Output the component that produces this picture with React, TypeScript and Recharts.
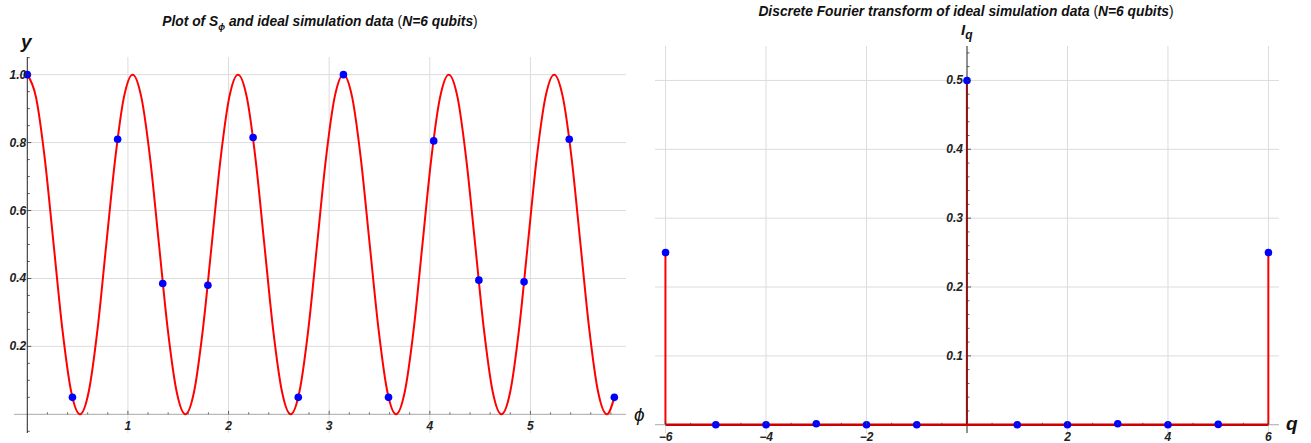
import React from 'react';
import {
  ComposedChart,
  Line,
  Scatter,
  Bar,
  XAxis,
  YAxis,
  CartesianGrid,
  ReferenceLine,
} from 'recharts';

// left panel: S_phi curve and the 14 simulated samples
const curvePhi = [
  0, 0.087, 0.175, 0.262, 0.349, 0.436, 0.524, 0.611, 0.698, 0.785, 0.873, 0.96,
  1.047, 1.134, 1.222, 1.309, 1.396, 1.484, 1.571, 1.658, 1.745, 1.833, 1.92, 2.007,
  2.094, 2.182, 2.269, 2.356, 2.443, 2.531, 2.618, 2.705, 2.793, 2.88, 2.967, 3.054,
  3.142, 3.229, 3.316, 3.403, 3.491, 3.578, 3.665, 3.752, 3.84, 3.927, 4.014, 4.102,
  4.189, 4.276, 4.363, 4.451, 4.538, 4.625, 4.712, 4.8, 4.887, 4.974, 5.061, 5.149,
  5.236, 5.323, 5.411, 5.498, 5.585, 5.672, 5.76, 5.834,
];
const curveS = [
  1, 0.933, 0.75, 0.5, 0.25, 0.067, 0, 0.067, 0.25, 0.5, 0.75, 0.933,
  1, 0.933, 0.75, 0.5, 0.25, 0.067, 0, 0.067, 0.25, 0.5, 0.75, 0.933,
  1, 0.933, 0.75, 0.5, 0.25, 0.067, 0, 0.067, 0.25, 0.5, 0.75, 0.933,
  1, 0.933, 0.75, 0.5, 0.25, 0.067, 0, 0.067, 0.25, 0.5, 0.75, 0.933,
  1, 0.933, 0.75, 0.5, 0.25, 0.067, 0, 0.067, 0.25, 0.5, 0.75, 0.933,
  1, 0.933, 0.75, 0.5, 0.25, 0.067, 0, 0.05,
];
const samplePhi = [0, 0.449, 0.898, 1.346, 1.795, 2.244, 2.693, 3.142, 3.59, 4.039, 4.488, 4.937, 5.386, 5.834];
const sampleS = [1.0, 0.05, 0.81, 0.385, 0.38, 0.815, 0.05, 1.0, 0.05, 0.805, 0.395, 0.39, 0.81, 0.05];

// right panel: DFT amplitudes
const qValues = [-6, -5, -4, -3, -2, -1, 0, 1, 2, 3, 4, 5, 6];
const iqValues = [0.25, 0, 0, 0.0015, 0, 0, 0.5, 0, 0, 0.0015, 0, 0.0005, 0.25];

// ticks
const phiTicks = [
  0.2, 0.4, 0.6, 0.8, 1, 1.2, 1.4, 1.6, 1.8, 2, 2.2, 2.4, 2.6, 2.8, 3,
  3.2, 3.4, 3.6, 3.8, 4, 4.2, 4.4, 4.6, 4.8, 5, 5.2, 5.4, 5.6, 5.8,
];
const phiLabels = [1, 2, 3, 4, 5];
const sTicks = [
  -0.05, 0.05, 0.1, 0.15, 0.2, 0.25, 0.3, 0.35, 0.4, 0.45, 0.5, 0.55,
  0.6, 0.65, 0.7, 0.75, 0.8, 0.85, 0.9, 0.95, 1.0, 1.05,
];
const sLabels = [0.2, 0.4, 0.6, 0.8, 1.0];
const qTicks = [
  -6, -5.5, -5, -4.5, -4, -3.5, -3, -2.5, -2, -1.5, -1, -0.5,
  0.5, 1, 1.5, 2, 2.5, 3, 3.5, 4, 4.5, 5, 5.5, 6,
];
const qLabels = [-6, -4, -2, 2, 4, 6];
const iqTicks = [
  0.02, 0.04, 0.06, 0.08, 0.1, 0.12, 0.14, 0.16, 0.18, 0.2, 0.22, 0.24, 0.26, 0.28,
  0.3, 0.32, 0.34, 0.36, 0.38, 0.4, 0.42, 0.44, 0.46, 0.48, 0.5, 0.52, 0.54,
];
const iqLabels = [0.1, 0.2, 0.3, 0.4, 0.5];

const curveData = curvePhi.map((phi, i) => ({ phi, s: curveS[i] }));
const sampleData = samplePhi.map((phi, i) => ({ phi, s: sampleS[i] }));
const dftData = qValues.map((q, i) => ({ q, iq: iqValues[i], base: 0 }));

const H = 443;
const AX = 1; // thickness given to the invisible axes
const LW = 650;
const LBOX = { top: 57, right: 24, bottom: 10, left: 14 };
const LX: [number, number] = [-0.132, 5.95];
const LY: [number, number] = [-0.055, 1.052];
const RW = 661;
const RBOX = { top: 46, right: 32, bottom: 10, left: 5 };
const RX: [number, number] = [-6.21, 6.21];
const RY: [number, number] = [-0.012, 0.55];

const chartMargin = (b: any) => ({ top: b.top, right: b.right, bottom: b.bottom - AX, left: b.left - AX });

const zeroX = (b: any, w: number, d: [number, number]) =>
  b.left + ((0 - d[0]) / (d[1] - d[0])) * (w - b.left - b.right);
const zeroY = (b: any, d: [number, number]) =>
  b.top + ((d[1] - 0) / (d[1] - d[0])) * (H - b.top - b.bottom);

const L0X = zeroX(LBOX, LW, LX);
const L0Y = zeroY(LBOX, LY);
const R0X = zeroX(RBOX, RW, RX);
const R0Y = zeroY(RBOX, RY);

const tickFont: React.CSSProperties = {
  fontFamily: '"Liberation Sans", Arial, sans-serif',
  fontWeight: 'bold',
  fontStyle: 'italic',
  fontSize: 12,
};

const isLabel = (v: number, list: number[]) => list.some((l) => Math.abs(l - v) < 1e-6);
const fmtInt = (v: number) => (v < 0 ? '\u2212' + Math.abs(v) : String(v));

const makeXTick = (y0: number, labels: number[], dy: number) => (props: any) => {
  const { x, payload } = props;
  const major = isLabel(payload.value, labels);
  return (
    <g>
      <line x1={x} x2={x} y1={y0} y2={y0 - (major ? 3.5 : 2)} stroke="#444" strokeWidth={0.8} />
      {major && (
        <text x={x} y={y0 + dy} textAnchor="middle" fill="#222" style={tickFont}>
          {fmtInt(payload.value)}
        </text>
      )}
    </g>
  );
};

const makeYTick = (x0: number, labels: number[], gap: number) => (props: any) => {
  const { y, payload } = props;
  const major = isLabel(payload.value, labels);
  return (
    <g>
      <line x1={x0} x2={x0 + (major ? 4 : 2.5)} y1={y} y2={y} stroke="#333" strokeWidth={0.8} />
      {major && (
        <text x={x0 - gap} y={y + 4} textAnchor="end" fill="#222" style={tickFont}>
          {payload.value.toFixed(1)}
        </text>
      )}
    </g>
  );
};

const dot = (r: number) => (p: any) => <circle cx={p.cx} cy={p.cy} r={r} fill="#0000ff" />;

const label = (left: number, top: number, size: number, bold = true): React.CSSProperties => ({
  position: 'absolute',
  left,
  top,
  fontFamily: '"Liberation Sans", Arial, sans-serif',
  fontSize: size,
  fontWeight: bold ? 'bold' : 'normal',
  fontStyle: 'italic',
  whiteSpace: 'nowrap',
  lineHeight: 1,
  color: '#111',
});

const titleStyle = (cx: number, top: number): React.CSSProperties => ({
  ...label(cx, top, 13.8),
  transform: 'translateX(-50%)',
});

const paren: React.CSSProperties = { fontWeight: 'normal', fontStyle: 'normal' };

export default function App() {
  return (
    <div style={{ position: 'absolute', left: 0, top: 0, width: 1311, height: H, background: '#fff', overflow: 'hidden' }}>
      <div style={{ position: 'absolute', left: 0, top: 0 }}>
        <ComposedChart width={LW} height={H} margin={chartMargin(LBOX)}>
          <CartesianGrid
            stroke="#dcdcdc"
            horizontalValues={sLabels}
            verticalValues={phiLabels}
          />
          <XAxis
            type="number"
            dataKey="phi"
            domain={LX}
            allowDataOverflow
            ticks={phiTicks}
            interval={0}
            height={AX}
            axisLine={false}
            tickLine={false}
            tick={makeXTick(L0Y, phiLabels, 16)}
          />
          <YAxis
            type="number"
            dataKey="s"
            domain={LY}
            allowDataOverflow
            ticks={sTicks}
            interval={0}
            width={AX}
            axisLine={false}
            tickLine={false}
            tick={makeYTick(L0X, sLabels, 1)}
          />
          <ReferenceLine y={0} stroke="#a8a8a8" strokeWidth={1} />
          <ReferenceLine x={0} stroke="#222" strokeWidth={1} />
          <Line
            data={curveData}
            dataKey="s"
            type="monotone"
            stroke="#ff0000"
            strokeWidth={2}
            dot={false}
            isAnimationActive={false}
          />
          <Scatter data={sampleData} dataKey="s" shape={dot(3.8)} isAnimationActive={false} />
        </ComposedChart>
      </div>

      <div style={{ position: 'absolute', left: LW, top: 0 }}>
        <ComposedChart width={RW} height={H} margin={chartMargin(RBOX)} data={dftData}>
          <CartesianGrid
            stroke="#dcdcdc"
            horizontalValues={iqLabels}
            verticalValues={qLabels}
          />
          <XAxis
            type="number"
            dataKey="q"
            domain={RX}
            allowDataOverflow
            ticks={qTicks}
            interval={0}
            height={AX}
            axisLine={false}
            tickLine={false}
            tick={makeXTick(R0Y, qLabels, 16)}
          />
          <YAxis
            type="number"
            domain={RY}
            allowDataOverflow
            ticks={iqTicks}
            interval={0}
            width={AX}
            axisLine={false}
            tickLine={false}
            tick={makeYTick(R0X, iqLabels, 4)}
          />
          <ReferenceLine y={0} stroke="#a8a8a8" strokeWidth={1} />
          <ReferenceLine x={0} stroke="#222" strokeWidth={1} />
          <Bar dataKey="iq" fill="#ff0000" barSize={2} isAnimationActive={false} />
          <Line
            dataKey="base"
            type="linear"
            stroke="#cc0000"
            strokeWidth={2.5}
            dot={false}
            isAnimationActive={false}
          />
          <Scatter dataKey="iq" shape={dot(3.8)} isAnimationActive={false} />
        </ComposedChart>
      </div>

      <div style={titleStyle(320, 15)}>
        Plot of S<sub style={{ fontSize: 9 }}>ϕ</sub> and ideal simulation data <span style={paren}>(</span>N=6 qubits<span style={paren}>)</span>
      </div>
      <div style={titleStyle(966, 5)}>
        Discrete Fourier transform of ideal simulation data <span style={paren}>(</span>N=6 qubits<span style={paren}>)</span>
      </div>
      <div style={label(21, 32, 19)}>y</div>
      <div style={label(634, 405, 19, false)}>ϕ</div>
      <div style={label(961, 22, 15)}>
        I<sub style={{ fontSize: 12 }}>q</sub>
      </div>
      <div style={label(1286, 414, 19)}>q</div>
    </div>
  );
}
